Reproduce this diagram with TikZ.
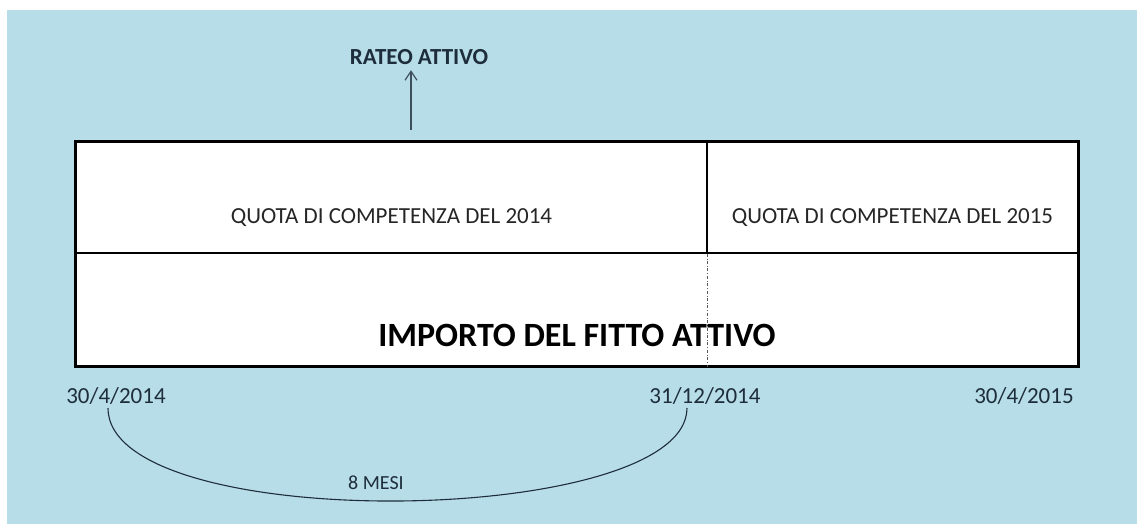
\documentclass[tikz,border=0pt]{standalone}
\usepackage{fontspec}
\setmainfont{Carlito}
\usetikzlibrary{arrows.meta, positioning, calc}
\definecolor{bgAqua}{HTML}{B7DDE8}
\definecolor{inkSlate}{HTML}{1E2D3B}
\definecolor{arrowGray}{HTML}{3E4E5A}

\begin{document}
\begin{tikzpicture}[x=1pt, y=-1pt,
    cell/.style={rectangle, draw=black, line width=1.2pt, fill=white, inner sep=0pt},
    quota/.style={font=\fontsize{23}{26}\selectfont, text=black!85},
    datelbl/.style={font=\fontsize{23}{26}\selectfont, text=inkSlate}]
  \useasboundingbox (0,0) rectangle (1137,524);
  \fill[bgAqua] (7,10) rectangle (1137,524);
  % top row
  \node[cell, minimum width=631pt, minimum height=111pt] (c14) at (391.5,197.5) {};
  \node[cell, minimum width=371pt, minimum height=111pt] (c15) at (892.5,197.5) {};
  % bottom row
  \node[cell, minimum width=1002pt, minimum height=113pt] (imp) at (577,309.5) {};
  \draw[line width=2pt] (c14.north west) rectangle (imp.south east);
  \draw[dash dot, black!65, line width=1pt] (c14.south east) -- (c14.south east |- imp.south);
  \node[quota] (t14) at ($(c14.center)+(0,20)$) {QUOTA DI COMPETENZA DEL 2014};
  \node[quota] (t15) at ($(c15.center)+(0,20)$) {QUOTA DI COMPETENZA DEL 2015};
  \node[font=\bfseries\fontsize{34}{38}\selectfont] (timp) at ($(imp.center)+(0,26)$)
    {IMPORTO DEL FITTO ATTIVO};
  % rateo
  \node[font=\bfseries\fontsize{23}{26}\selectfont, text=inkSlate] (rateo) at (419,57) {RATEO ATTIVO};
  \coordinate (foot) at (411,130);
  \draw[-{Straight Barb[length=9pt,width=12pt]}, arrowGray, line width=1.2pt]
    (foot) -- ([yshift=-2pt]foot |- rateo.south);
  % dates
  \node[datelbl] (d14) at (116,396) {30/4/2014};
  \node[datelbl] (d1231) at (705,396) {31/12/2014};
  \node[datelbl] (d15) at (1024,396) {30/4/2015};
  \draw[inkSlate, line width=1.1pt] ([xshift=-8pt]d14.south)
    .. controls +(0,128) and +(0,120) .. ([xshift=-18pt]d1231.south);
  \node[font=\fontsize{20}{24}\selectfont, text=inkSlate] (mesi) at (376,483) {8 MESI};
\end{tikzpicture}
\end{document}
